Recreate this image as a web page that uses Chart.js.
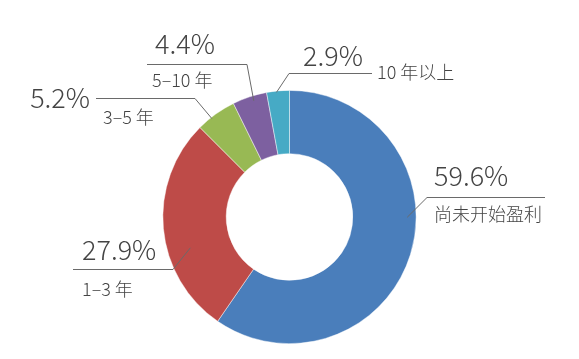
<!DOCTYPE html>
<html><head><meta charset="utf-8">
<script src="https://cdn.jsdelivr.net/npm/chart.js@4/dist/chart.umd.min.js"></script>
<style>html,body{margin:0;padding:0;background:#fff}#c{display:block}</style>
</head><body>
<canvas id="c" width="579" height="359"></canvas>
<script>
const categories = ['尚未开始盈利', '1–3 年', '3–5 年', '5–10 年', '10 年以上'];
const values = [59.6, 27.9, 5.2, 4.4, 2.9];
const valueLabels = ['59.6%', '27.9%', '5.2%', '4.4%', '2.9%'];
const colors = ['#4A7EBB', '#BE4B48', '#98B954', '#7D60A0', '#46AAC5'];

// Leader-line / label layout (styling only)
const labelLayout = [
  {t: 0.42, rf: 0.93, elbow: [427, 197], lineEnd: 545, pct: [434, 186, 'left'], cat: [434, 214.5]},
  {t: 0.38, rf: 0.82, elbow: [173, 269], lineEnd: 73,  pct: [82, 260, 'left'],  cat: [82, 289]},
  {t: 0.36, rf: 0.99, elbow: [195, 98],  lineEnd: 96,  pct: [90, 107.5, 'right'], cat: [103, 117.5]},
  {t: 0.58, rf: 0.96, elbow: [247, 64],  lineEnd: 147, pct: [155, 54, 'left'],  cat: [152, 80.5]},
  {t: 0.43, rf: 0.99, elbow: [289, 73],  lineEnd: 372, pct: [303, 65.5, 'left'],  cat: [377, 72.5]}
];

const FONT = '"Noto Sans CJK SC", "Noto Sans", sans-serif';

const leaderPlugin = {
  id: 'leaders',
  afterDatasetsDraw(chart) {
    const ctx = chart.ctx;
    const meta = chart.getDatasetMeta(0);
    ctx.save();
    meta.data.forEach((arc, i) => {
      const L = labelLayout[i];
      const p = arc.getProps(['x', 'y', 'startAngle', 'endAngle', 'outerRadius'], true);
      const a = p.startAngle + L.t * (p.endAngle - p.startAngle);
      const r = p.outerRadius * L.rf;
      const ax = p.x + Math.cos(a) * r, ay = p.y + Math.sin(a) * r;
      ctx.strokeStyle = '#6a6a6a';
      ctx.lineWidth = 1;
      ctx.beginPath();
      ctx.moveTo(ax, ay);
      ctx.lineTo(L.elbow[0], L.elbow[1] + 0.5);
      ctx.lineTo(L.lineEnd, L.elbow[1] + 0.5);
      ctx.stroke();
      ctx.fillStyle = '#444';
      ctx.font = '300 27px ' + FONT;
      ctx.textAlign = L.pct[2];
      ctx.textBaseline = 'alphabetic';
      ctx.fillText(valueLabels[i], L.pct[0], L.pct[1]);
      ctx.font = '300 18px ' + FONT;
      ctx.textAlign = 'left';
      ctx.textBaseline = 'middle';
      ctx.fillText(categories[i], L.cat[0], L.cat[1]);
    });
    ctx.restore();
  }
};

new Chart(document.getElementById('c'), {
  type: 'doughnut',
  data: {
    labels: categories,
    datasets: [{
      data: values,
      backgroundColor: colors,
      borderColor: 'rgba(255,255,255,0.6)',
      borderWidth: 0.75
    }]
  },
  options: {
    responsive: false,
    devicePixelRatio: 1,
    animation: false,
    cutout: '50%',
    layout: {padding: {top: 90, bottom: 15, left: 0, right: 0}},
    plugins: {legend: {display: false}, tooltip: {enabled: false}}
  },
  plugins: [leaderPlugin]
});
</script>
</body></html>
